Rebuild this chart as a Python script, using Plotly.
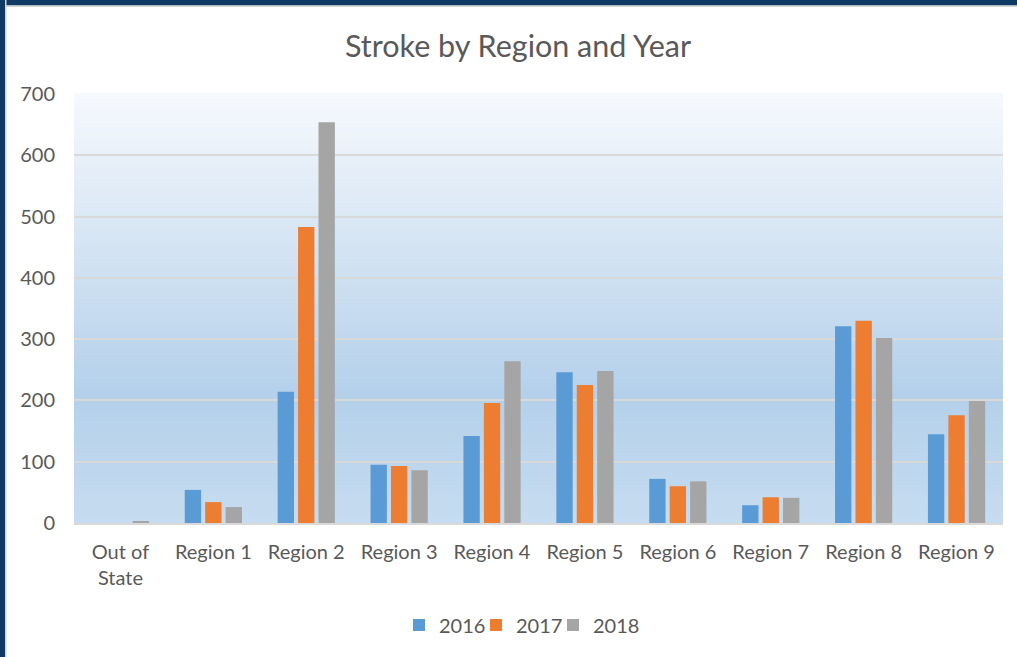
import plotly.graph_objects as go

categories = ["Out of<br>State", "Region 1", "Region 2", "Region 3", "Region 4",
              "Region 5", "Region 6", "Region 7", "Region 8", "Region 9"]
years = ["2016", "2017", "2018"]
v2016 = [0, 54, 214, 95, 142, 246, 72, 29, 321, 145]
v2017 = [0, 34, 483, 93, 196, 225, 60, 42, 330, 176]
v2018 = [3, 26, 654, 86, 264, 248, 68, 41, 302, 199]
colors = ["#5b9bd5", "#ed7d31", "#a5a5a5"]
y_ticks = [0, 100, 200, 300, 400, 500, 600, 700]

legend_ids = ["legend", "legend2", "legend3"]
legend_x = [399, 476, 553]  # left pixel positions of legend boxes

fig = go.Figure()
for name, vals, col, lid in zip(years, [v2016, v2017, v2018], colors, legend_ids):
    fig.add_trace(go.Bar(x=categories, y=vals, name=name, marker_color=col,
                         marker_line_width=0, legend=lid, showlegend=True))

# gradient background for plot area
stops = [(0.0, (198, 220, 240)), (0.3, (180, 208, 234)), (1.0, (246, 249, 253))]
def col_at(t):
    for (t0, c0), (t1, c1) in zip(stops[:-1], stops[1:]):
        if t0 <= t <= t1:
            f = (t - t0) / (t1 - t0)
            return "rgb(%d,%d,%d)" % tuple(round(a + (b - a) * f) for a, b in zip(c0, c1))
    return "rgb(%d,%d,%d)" % stops[-1][1]

shapes = []
N = 80
for i in range(N):
    t = (i + 0.5) / N
    shapes.append(dict(type="rect", xref="x domain", yref="y domain",
                       x0=0, x1=1, y0=i / N, y1=(i + 1) / N + 0.002,
                       fillcolor=col_at(t), line_width=0, layer="below"))
# frame border (left and top)
shapes += [
    dict(type="rect", xref="paper", yref="paper", xsizemode="pixel", ysizemode="pixel",
         xanchor=0, yanchor=0, x0=-74, x1=-69, y0=-140, y1=540,
         fillcolor="#0f3a63", line_width=0, layer="above"),
    dict(type="rect", xref="paper", yref="paper", xsizemode="pixel", ysizemode="pixel",
         xanchor=0, yanchor=1, x0=-74, x1=960, y0=88.5, y1=100,
         fillcolor="#0f3a63", line_width=0, layer="above"),
    dict(type="rect", xref="paper", yref="paper", xsizemode="pixel", ysizemode="pixel",
         xanchor=0, yanchor=0, x0=-69, x1=-67.5, y0=-140, y1=523 + 5,
         fillcolor="#d6d6d6", line_width=0, layer="above"),
    dict(type="rect", xref="paper", yref="paper", xsizemode="pixel", ysizemode="pixel",
         xanchor=0, yanchor=1, x0=-69, x1=960, y0=87, y1=88.5,
         fillcolor="#d6d6d6", line_width=0, layer="above"),
]

legend_common = dict(orientation="h", xref="container", yref="container",
                     xanchor="left", y=1 - 625 / 657, yanchor="middle",
                     font=dict(size=20, color="#595959"), itemwidth=30,
                     bgcolor="rgba(0,0,0,0)", borderwidth=0, visible=True)
legends = {lid: dict(legend_common, x=px / 1017) for lid, px in zip(legend_ids, legend_x)}

fig.update_layout(
    width=1017, height=657,
    margin=dict(l=74, r=14, t=94, b=134),
    paper_bgcolor="white", plot_bgcolor="rgba(0,0,0,0)",
    showlegend=True,
    font=dict(family="Lato, Carlito, sans-serif", size=20, color="#595959"),
    title=dict(text="Stroke by Region and Year", x=518 / 1017, xanchor="center",
               xref="container", y=1 - 46 / 657, yanchor="middle",
               font=dict(size=30.5, color="#595959")),
    barmode="group", bargap=0.34, bargroupgap=0.2,
    shapes=shapes,
    xaxis=dict(showgrid=False, showline=True, linecolor="#d9d9d9", linewidth=2,
               ticks="", tickfont=dict(size=20), ticklabelstandoff=10),
    yaxis=dict(range=[0, 700], tickvals=y_ticks, showgrid=True, gridcolor="#d9d9d9",
               gridwidth=2, zeroline=False, showline=False, ticks="",
               tickfont=dict(size=20), ticklabelstandoff=18),
    **legends,
)

fig.write_html("out.html", config={"displayModeBar": False},
               post_script="document.body.style.margin='0';document.body.style.padding='0';")
